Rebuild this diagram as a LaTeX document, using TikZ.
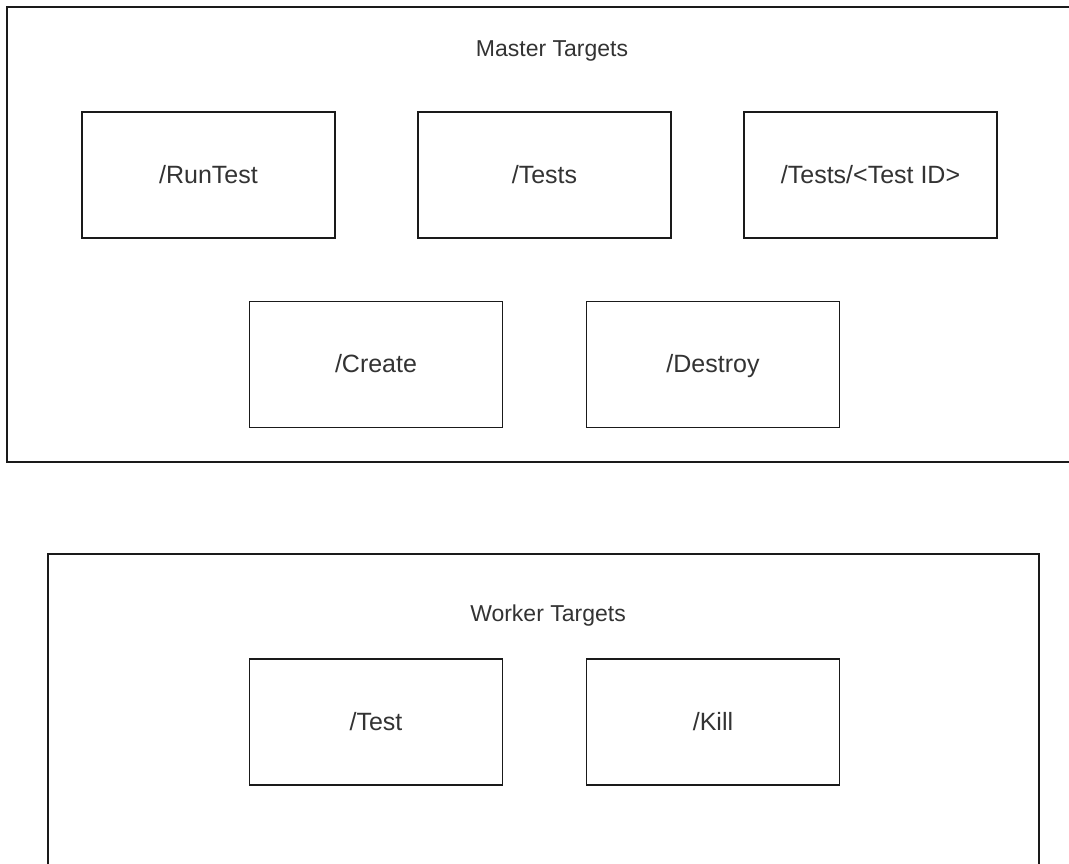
\documentclass[tikz,border=0pt]{standalone}
\usepackage{fontspec}
\setmainfont{Liberation Sans}
\definecolor{txt}{HTML}{333333}
\definecolor{ln}{HTML}{1A1A1A}
\tikzset{
  target/.style={draw=ln, line width=1.8pt, fill=white, minimum width=253pt, minimum height=126pt, inner sep=0pt, text=txt, text height=20pt, text depth=4pt, font=\fontsize{25}{29}\selectfont},
  title/.style={text=txt, inner sep=0pt, font=\fontsize{23}{27}\selectfont},
  frame/.style={draw=ln, line width=1.8pt}
}
\begin{document}
\begin{tikzpicture}[x=1pt,y=-1pt]
\useasboundingbox (0,0) rectangle (1069,863);
\clip (0,0) rectangle (1069,863);
\fill[white] (0,0) rectangle (1069,863);
% containers
\draw[frame] (7,7) rectangle (1090,462);
\draw[frame] (48,554) rectangle (1039,890);
\node[title] (mt) at (552,51) {Master Targets};
\node[title] (wt) at (548,616) {Worker Targets};
% master targets
\node[target] (runtest) at (208.5,175) {/RunTest};
\node[target] (tests) at (544.5,175) {/Tests};
\node[target] (testid) at (870.5,175) {/Tests/<Test ID>};
\node[target] (create) at (376,364.5) {/Create};
\node[target] (destroy) at (713,364.5) {/Destroy};
% worker targets
\node[target] (test) at (376,722) {/Test};
\node[target] (kill) at (713,722) {/Kill};
\end{tikzpicture}
\end{document}
